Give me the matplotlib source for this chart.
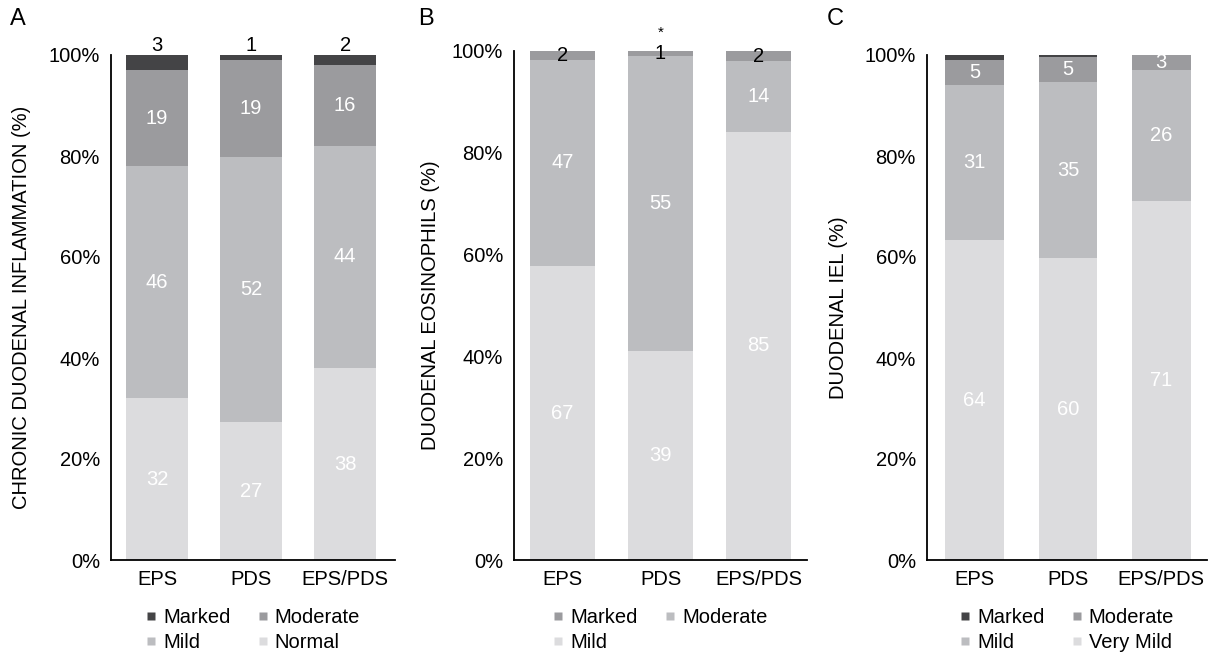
import matplotlib
matplotlib.use('Agg')
import matplotlib.pyplot as plt
from matplotlib.lines import Line2D
import numpy as np

plt.rcParams['font.family'] = ['Liberation Sans', 'DejaVu Sans']

# ---------------- data ----------------
categories = ['EPS', 'PDS', 'EPS/PDS']

# Panel A: chronic duodenal inflammation (counts)
a_marked = [3, 1, 2]
a_moderate = [19, 19, 16]
a_mild = [46, 52, 44]
a_normal = [32, 27, 38]

# Panel B: duodenal eosinophils (counts)
b_marked = [2, 1, 2]
b_moderate = [47, 55, 14]
b_mild = [67, 39, 85]

# Panel C: duodenal IEL (counts)
c_marked = [1, 0.4, 0]
c_moderate = [5, 5, 3]
c_mild = [31, 35, 26]
c_very_mild = [64, 60, 71]

y_ticks = [0, 20, 40, 60, 80, 100]
y_tick_labels = ['0%', '20%', '40%', '60%', '80%', '100%']

panel_letters = ['A', 'B', 'C']
y_titles = ['CHRONIC DUODENAL INFLAMMATION (%)', 'DUODENAL EOSINOPHILS (%)', 'DUODENAL IEL (%)']

# ---------------- styles ----------------
DARK = '#444446'
MID = '#9b9b9e'
LIGHT = '#bcbdc0'
PALE = '#dcdcde'
FS = 14.5

W, H = 1213, 653
fig = plt.figure(figsize=(W / 100, H / 100), dpi=100)


def px_axes(l, r, t, b):
    return fig.add_axes([l / W, 1 - b / H, (r - l) / W, (b - t) / H])


# series listed bottom -> top: (name, values, color, label mode)
panels = [
    dict(box=(111, 395, 55, 560), xlim=(-0.49, 2.53), width=0.66,
         series=[('Normal', a_normal, PALE, 'in'), ('Mild', a_mild, LIGHT, 'in'),
                 ('Moderate', a_moderate, MID, 'in'), ('Marked', a_marked, DARK, 'above')],
         legend_order=['Marked', 'Mild', 'Moderate', 'Normal'],
         letter_x=10, ylab_x=22, star=None),
    dict(box=(514, 807, 51, 560), xlim=(-0.495, 2.495), width=0.66,
         series=[('Mild', b_mild, PALE, 'in'), ('Moderate', b_moderate, LIGHT, 'in'),
                 ('Marked', b_marked, MID, 'black')],
         legend_order=['Marked', 'Mild', 'Moderate'],
         letter_x=418, ylab_x=431, star=1),
    dict(box=(927, 1207, 55, 560), xlim=(-0.51, 2.49), width=0.63,
         series=[('Very Mild', c_very_mild, PALE, 'in'), ('Mild', c_mild, LIGHT, 'in'),
                 ('Moderate', c_moderate, MID, 'in'), ('Marked', c_marked, DARK, None)],
         legend_order=['Marked', 'Mild', 'Moderate', 'Very Mild'],
         letter_x=827, ylab_x=838, star=None),
]

for i, p in enumerate(panels):
    l, r, t, b = p['box']
    ax = px_axes(l, r, t, b)
    x = np.arange(len(categories))
    totals = np.sum([np.array(s[1], dtype=float) for s in p['series']], axis=0)
    bottom = np.zeros(len(categories))
    colors = {}
    for name, vals, col, mode in p['series']:
        vals = np.array(vals, dtype=float)
        pct = vals / totals * 100
        ax.bar(x, pct, p['width'], bottom=bottom, color=col, edgecolor='none', zorder=2)
        colors[name] = col
        for j in range(len(categories)):
            if vals[j] <= 0 or mode is None:
                continue
            lab = f'{vals[j]:g}'
            if mode == 'in':
                ax.text(x[j], bottom[j] + pct[j] / 2, lab, ha='center', va='center',
                        color='white', fontsize=FS, zorder=3)
            elif mode == 'black':
                ax.text(x[j], bottom[j] + pct[j] / 2, lab, ha='center', va='center',
                        color='black', fontsize=FS, zorder=3)
            elif mode == 'above':
                ax.text(x[j], bottom[j] + pct[j], lab, ha='center', va='bottom',
                        color='black', fontsize=FS, zorder=3, clip_on=False)
        bottom = bottom + pct
    if p['star'] is not None:
        ax.annotate('*', xy=(x[p['star']], 100), xytext=(0, 8), textcoords='offset points',
                    ha='center', va='bottom', fontsize=11, annotation_clip=False)

    ax.set_xlim(*p['xlim'])
    ax.set_ylim(0, 100)
    ax.set_yticks(y_ticks)
    ax.set_yticklabels(y_tick_labels, fontsize=FS)
    ax.set_xticks(x)
    ax.set_xticklabels(categories, fontsize=FS)
    ax.tick_params(axis='y', length=0, pad=8)
    ax.tick_params(axis='x', length=0, pad=7)
    for s in ['top', 'right']:
        ax.spines[s].set_visible(False)
    for s in ['left', 'bottom']:
        ax.spines[s].set_linewidth(1.3)
        ax.spines[s].set_color('black')

    handles = [Line2D([], [], marker='s', linestyle='none', markersize=6,
                      markerfacecolor=colors[n], markeredgecolor='none')
               for n in p['legend_order']]
    ax.legend(handles, p['legend_order'], loc='upper center', bbox_to_anchor=(0.5, -0.095),
              ncol=2, frameon=False, handlelength=0.5, handletextpad=0.35,
              columnspacing=1.35, labelspacing=0.3, borderpad=0, borderaxespad=0,
              fontsize=FS)

    fig.text(p['letter_x'] / W, 1 - 19 / H, panel_letters[i], fontsize=17,
             ha='left', va='center')
    fig.text(p['ylab_x'] / W, 1 - ((t + b) / 2) / H, y_titles[i], rotation=90,
             fontsize=FS, ha='center', va='center')

fig.savefig('out.png', dpi=100)
